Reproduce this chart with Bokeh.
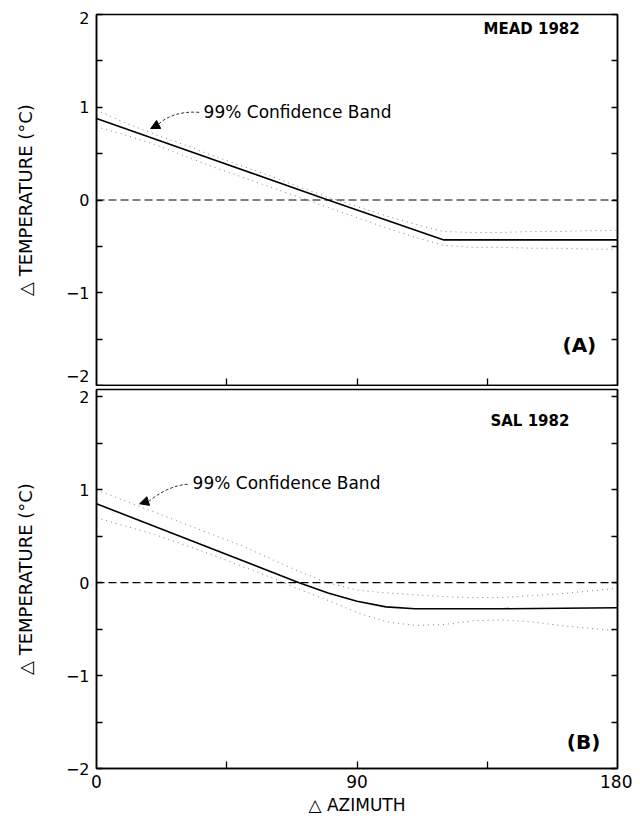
from bokeh.plotting import figure
from bokeh.models import FixedTicker, LinearAxis, Span, Arrow, NormalHead, Range1d
from bokeh.layouts import column
from bokeh.embed import file_html
from bokeh.resources import INLINE
from bokeh.core.properties import value

# ---------------- data ----------------
azimuth = [0, 10, 20, 30, 40, 50, 60, 70, 80, 90, 100, 110, 120, 130, 140, 150, 160, 170, 180]

mead_fit_x = [0, 80, 120, 180]
mead_fit_y = [0.88, 0.0, -0.43, -0.43]
mead_upper = [0.97, 0.83, 0.71, 0.60, 0.48, 0.37, 0.26, 0.14, 0.03, -0.07, -0.17, -0.26, -0.34,
              -0.35, -0.35, -0.34, -0.34, -0.33, -0.33]
mead_lower = [0.79, 0.70, 0.60, 0.48, 0.36, 0.25, 0.14, 0.03, -0.08, -0.19, -0.30, -0.40, -0.49,
              -0.51, -0.51, -0.52, -0.52, -0.53, -0.53]

sal_fit_x = [0, 70, 80, 90, 100, 110, 140, 180]
sal_fit_y = [0.85, 0.0, -0.11, -0.20, -0.26, -0.28, -0.28, -0.27]
sal_upper = [1.00, 0.88, 0.76, 0.64, 0.52, 0.40, 0.26, 0.12, 0.00, -0.08, -0.11, -0.13, -0.15,
             -0.16, -0.16, -0.14, -0.12, -0.09, -0.06]
sal_lower = [0.70, 0.61, 0.52, 0.41, 0.30, 0.18, 0.06, -0.07, -0.19, -0.32, -0.42, -0.46, -0.45,
             -0.41, -0.40, -0.42, -0.46, -0.49, -0.52]

y_tick_marks = [-2, -1.5, -1, -0.5, 0, 0.5, 1, 1.5, 2]
y_tick_labels = ["\u22122", "\u22121", "0", "1", "2"]
x_tick_marks = [45, 90, 135]
x_tick_values = [0, 90, 180]
x_tick_labels = ["0", "90", "180"]

FONT = "DejaVu Sans"


def make_panel(height, border_top, border_bottom, y_end, label_pos, fit_x, fit_y, upper, lower,
               tag, letter, tag_xy, letter_xy, note_xy, curve, head, show_x_labels):
    p = figure(width=632, height=height, output_backend="svg", toolbar_location=None,
               x_range=Range1d(0, 180), y_range=Range1d(-2, y_end),
               min_border_left=96, min_border_right=15,
               min_border_top=border_top, min_border_bottom=border_bottom)
    p.grid.visible = False
    p.background_fill_color = "white"
    p.border_fill_color = "white"
    p.outline_line_color = "black"
    p.outline_line_width = 1.5
    p.outline_line_alpha = 1.0

    # left axis: labels at label_pos, tick marks drawn as (minor) ticks every 0.5
    left = p.yaxis[0]
    left.ticker = FixedTicker(ticks=label_pos, minor_ticks=y_tick_marks)
    left.major_label_overrides = {pos: lab for pos, lab in zip(label_pos, y_tick_labels)}
    left.major_tick_in = 0
    left.major_tick_out = 0
    left.major_label_text_font = FONT
    left.major_label_text_font_size = "16px"
    left.major_label_text_color = "black"
    left.major_label_standoff = 7
    left.axis_label = "\u25b3 TEMPERATURE (\u00b0C)"
    left.axis_label_text_font = FONT
    left.axis_label_text_font_size = "18px"
    left.axis_label_text_font_style = "normal"
    left.axis_label_text_color = "black"
    left.axis_label_standoff = 27

    # right axis: tick marks only
    right = LinearAxis(ticker=FixedTicker(ticks=[], minor_ticks=y_tick_marks))
    p.add_layout(right, "right")

    for ax in (left, right):
        ax.minor_tick_in = 6
        ax.minor_tick_out = 0
        ax.minor_tick_line_width = 1.3
        ax.minor_tick_line_color = "black"
        ax.axis_line_color = "black"
        ax.axis_line_width = 1.5

    # x axis
    xa = p.xaxis[0]
    if show_x_labels:
        xa.ticker = FixedTicker(ticks=x_tick_values, minor_ticks=x_tick_marks)
        xa.major_label_overrides = {v: lab for v, lab in zip(x_tick_values, x_tick_labels)}
        xa.major_label_text_font = FONT
        xa.major_label_text_font_size = "17px"
        xa.major_label_text_color = "black"
        xa.major_label_standoff = 6
        xa.axis_label = "\u25b3 AZIMUTH"
        xa.axis_label_text_font = FONT
        xa.axis_label_text_font_size = "17px"
        xa.axis_label_text_font_style = "normal"
        xa.axis_label_text_color = "black"
        xa.axis_label_standoff = 4
    else:
        xa.ticker = FixedTicker(ticks=[], minor_ticks=x_tick_marks)
    xa.major_tick_in = 0
    xa.major_tick_out = 0
    xa.minor_tick_in = 7
    xa.minor_tick_out = 0
    xa.minor_tick_line_width = 1.3
    xa.minor_tick_line_color = "black"
    xa.axis_line_color = "black"
    xa.axis_line_width = 1.5

    # zero reference line
    p.add_layout(Span(location=0, dimension="width", line_color="black",
                      line_width=1.2, line_dash="8 4"))

    # confidence band (dotted)
    p.line(azimuth, upper, line_color="#808080", line_width=1, line_dash="1 4")
    p.line(azimuth, lower, line_color="#808080", line_width=1, line_dash="1 4")
    # fitted curve
    p.line(fit_x, fit_y, line_color="black", line_width=1.6)

    # annotation text + dashed curved arrow
    p.text(x=[note_xy[0]], y=[note_xy[1]], text=["99% Confidence Band"],
           text_font=value(FONT), text_font_size="17px", text_baseline="middle",
           text_align="left", text_color="black")
    (x0, y0, cx0, cy0, cx1, cy1, x1, y1) = curve
    p.bezier(x0=[x0], y0=[y0], cx0=[cx0], cy0=[cy0], cx1=[cx1], cy1=[cy1], x1=[x1], y1=[y1],
             line_color="#333333", line_width=1, line_dash="3 2")
    p.add_layout(Arrow(end=NormalHead(size=9, fill_color="black", line_color="black"),
                       x_start=head[0], y_start=head[1], x_end=head[2], y_end=head[3],
                       line_alpha=0))

    p.text(x=[tag_xy[0]], y=[tag_xy[1]], text=[tag], text_font=value(FONT),
           text_font_size="15px", text_font_style="bold", text_baseline="middle",
           text_align="left", text_color="black")
    p.text(x=[letter_xy[0]], y=[letter_xy[1]], text=[letter], text_font=value(FONT),
           text_font_size="20px", text_font_style="bold", text_baseline="middle",
           text_align="left", text_color="black")
    return p


p1 = make_panel(386, 14, 1, 2, [-1.9, -1, 0, 1, 1.96],
                mead_fit_x, mead_fit_y, mead_upper, mead_lower,
                "MEAD 1982", "(A)", (133.7, 1.84), (161, -1.56), (37.0, 0.95),
                (35.5, 0.945, 29, 0.96, 24, 0.9, 21.2, 0.81), (21.5, 0.815, 18.7, 0.77), False)

p2 = make_panel(433, 3, 51, 2.08, [-2, -1, 0, 1, 2.0],
                sal_fit_x, sal_fit_y, sal_upper, sal_lower,
                "SAL 1982", "(B)", (136.1, 1.74), (162.5, -1.72), (33.2, 1.07),
                (31.5, 1.06, 26, 1.05, 21, 0.95, 18.2, 0.88), (18.5, 0.885, 14.9, 0.85), True)

layout = column(p1, p2)
open("out.html", "w").write(file_html(layout, INLINE))
